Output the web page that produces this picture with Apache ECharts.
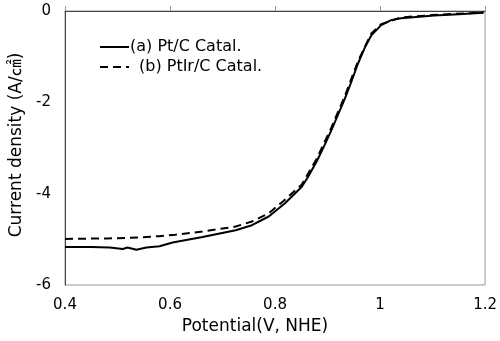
<!DOCTYPE html>
<html>
<head>
<meta charset="utf-8">
<script src="https://cdn.jsdelivr.net/npm/echarts@6/dist/echarts.min.js"></script>
<style>html,body{margin:0;padding:0;background:#fff;}#c{width:500px;height:341px;}</style>
</head>
<body>
<div id="c"></div>
<script>
const seriesNames = ['(a) Pt/C Catal.', '(b) PtIr/C Catal.'];
const xTicks = [0.4, 0.6, 0.8, 1, 1.2];
const yTicks = [-6, -4, -2, 0];
const ptV = [0.400,0.450,0.485,0.510,0.519,0.536,0.555,0.580,0.605,0.662,0.725,0.756,0.788,0.819,0.851,0.863,0.880,0.895,0.907,0.920,0.933,0.945,0.958,0.971,0.983,1.002,1.021,1.040,1.103,1.150,1.197];
const ptI = [-5.17,-5.17,-5.18,-5.21,-5.18,-5.23,-5.18,-5.15,-5.07,-4.95,-4.80,-4.69,-4.50,-4.21,-3.85,-3.63,-3.28,-2.92,-2.62,-2.27,-1.92,-1.56,-1.15,-0.80,-0.54,-0.31,-0.20,-0.16,-0.10,-0.07,-0.04];
const ptirV = [0.400,0.480,0.540,0.580,0.610,0.662,0.725,0.756,0.788,0.815,0.851,0.880,0.907,0.933,0.958,0.983,1.002,1.040,1.100,1.197];
const ptirI = [-4.99,-4.98,-4.96,-4.93,-4.90,-4.83,-4.72,-4.61,-4.43,-4.17,-3.80,-3.22,-2.56,-1.86,-1.10,-0.50,-0.29,-0.14,-0.09,-0.03];

const FONT = '"DejaVu Sans", "Noto Sans CJK JP", sans-serif';
const chart = echarts.init(document.getElementById('c'), null, {renderer: 'canvas'});
const legendCommon = {itemWidth: 29, itemHeight: 14, orient: 'vertical',
  itemStyle: {color: 'transparent', borderWidth: 0, opacity: 0}};
chart.setOption({
  animation: false,
  backgroundColor: '#fff',
  textStyle: {fontFamily: FONT, color: '#000'},
  grid: {left: 65, right: 12, top: 11, bottom: 56, show: true, borderColor: '#999', borderWidth: 1, containLabel: false},
  legend: [
    Object.assign({data: [seriesNames[0]], left: 94, top: 34,
     textStyle: {fontFamily: FONT, fontSize: 16, color: '#000', padding: [0,0,0,-4]}}, legendCommon),
    Object.assign({data: [seriesNames[1]], left: 94, top: 54,
     textStyle: {fontFamily: FONT, fontSize: 16, color: '#000', padding: [0,0,0,5]}}, legendCommon)
  ],
  xAxis: {
    type: 'value', min: 0.4, max: 1.2, interval: 0.2,
    name: 'Potential(V, NHE)', nameLocation: 'middle', nameGap: 32,
    nameTextStyle: {fontFamily: FONT, fontSize: 17, color: '#000', padding: [0, 40, 0, 0]},
    axisLine: {show: true, lineStyle: {color: '#444', width: 1}},
    axisTick: {show: true, inside: true, length: 5, lineStyle: {color: '#999'}},
    splitLine: {show: false},
    axisLabel: {fontFamily: FONT, fontSize: 15, color: '#000', margin: 13,
      formatter: v => { const t = xTicks.find(k => Math.abs(k - v) < 1e-6); return t === undefined ? '' : String(t); }}
  },
  yAxis: {
    type: 'value', min: -6, max: 0, interval: 2,
    name: 'Current density (A/㎠)', nameLocation: 'middle', nameGap: 40, nameRotate: 90,
    nameTextStyle: {fontFamily: FONT, fontSize: 17, color: '#000', padding: [0, 0, 0, 6]},
    axisLine: {show: true, lineStyle: {color: '#444', width: 1}},
    axisTick: {show: false},
    splitLine: {show: false},
    axisLabel: {fontFamily: FONT, fontSize: 15, color: '#000', margin: 14,
      formatter: v => { const t = yTicks.find(k => Math.abs(k - v) < 1e-6); return t === undefined ? '' : String(t); }}
  },
  series: [
    {name: seriesNames[0], type: 'line', showSymbol: false, symbol: 'none',
     data: ptV.map((v, i) => [v, ptI[i]]),
     lineStyle: {color: '#000', width: 2, type: 'solid'}, itemStyle: {color: '#000'}},
    {name: seriesNames[1], type: 'line', showSymbol: false, symbol: 'none',
     data: ptirV.map((v, i) => [v, ptirI[i]]),
     lineStyle: {color: '#000', width: 2, type: [8, 5]}, itemStyle: {color: '#000'}, z: 3}
  ]
});
</script>
</body>
</html>
